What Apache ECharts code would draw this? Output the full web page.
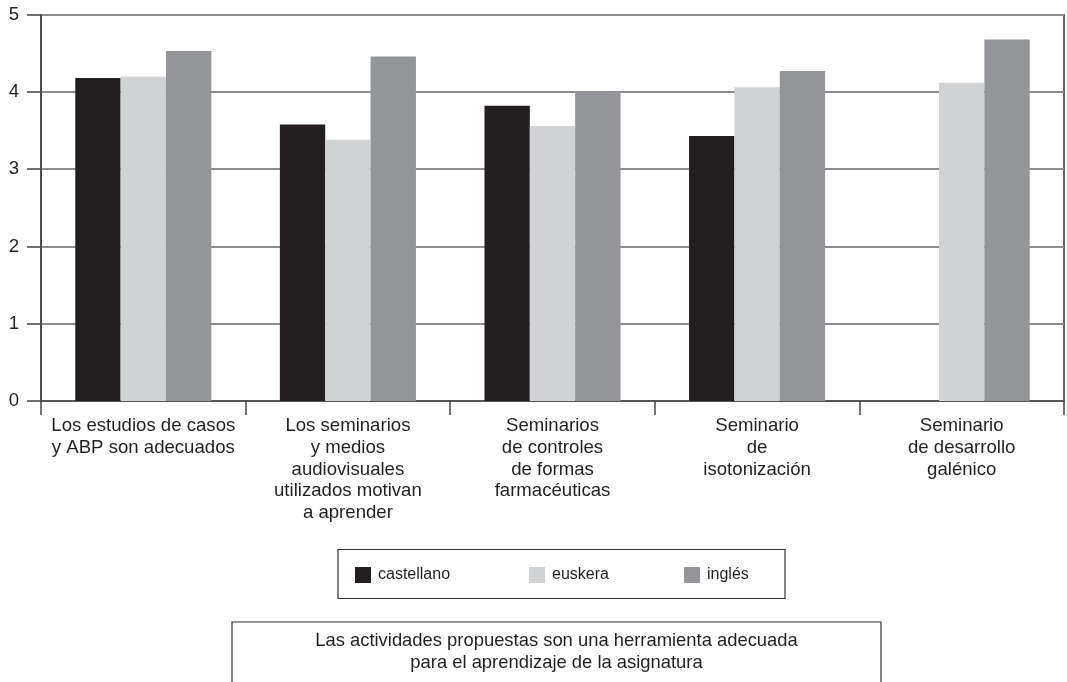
<!DOCTYPE html>
<html>
<head>
<meta charset="utf-8">
<script src="https://cdn.jsdelivr.net/npm/echarts@6/dist/echarts.min.js"></script>
<style>
  html, body { margin: 0; padding: 0; background: #fff; }
  #chart { width: 1067px; height: 682px; }
</style>
</head>
<body>
<div id="chart"></div>
<script>
// Mean agreement per activity and teaching language
const categories = [
  'Los estudios de casos\ny ABP son adecuados',
  'Los seminarios\ny medios\naudiovisuales\nutilizados motivan\na aprender',
  'Seminarios\nde controles\nde formas\nfarmacéuticas',
  'Seminario\nde\nisotonización',
  'Seminario\nde desarrollo\ngalénico'
];
const castellano = [4.18, 3.58, 3.82, 3.43, null];
const euskera    = [4.20, 3.38, 3.56, 4.06, 4.12];
const ingles     = [4.53, 4.46, 4.01, 4.27, 4.68];
const seriesNames = ['castellano', 'euskera', 'inglés'];
const seriesColors = ['#231f20', '#d1d2d4', '#949599'];
const yTicks = [0, 1, 2, 3, 4, 5];
const footerLines = [
  'Las actividades propuestas son una herramienta adecuada',
  'para el aprendizaje de la asignatura'
];

const FONT = '"Liberation Sans", Arial, Helvetica, sans-serif';
const TEXT = '#231f20';

const chart = echarts.init(document.getElementById('chart'), null, { renderer: 'canvas' });

// One legend per language so each entry sits in its own column of the box
const legendLefts = [355, 529, 684];
const legends = seriesNames.map((name, i) => ({
  data: [name],
  left: legendLefts[i],
  top: 567,
  itemWidth: 16,
  itemHeight: 16,
  itemGap: 0,
  padding: 0,
  icon: 'rect',
  textStyle: { fontFamily: FONT, fontSize: 16, color: TEXT, padding: [0, 0, 0, 2] },
  selectedMode: false
}));

const seriesData = [castellano, euskera, ingles];

chart.setOption({
  animation: false,
  backgroundColor: '#fff',
  textStyle: { fontFamily: FONT },
  grid: {
    left: 41, right: 3, top: 14.7, bottom: 281,
    show: true, borderColor: '#333', borderWidth: 1.5, backgroundColor: 'transparent'
  },
  legend: legends,
  xAxis: {
    type: 'category',
    data: categories,
    axisLine: { lineStyle: { color: '#444', width: 1.5 } },
    axisTick: { show: true, length: 14, alignWithLabel: false, lineStyle: { color: '#444', width: 1.5 } },
    axisLabel: {
      interval: 0, margin: 14, fontFamily: FONT, fontSize: 18.6, lineHeight: 21.8, color: TEXT, align: 'center'
    }
  },
  yAxis: {
    type: 'value',
    min: yTicks[0],
    max: yTicks[yTicks.length - 1],
    interval: 1,
    axisLine: { show: true, lineStyle: { color: '#444', width: 1.5 } },
    axisTick: { show: true, length: 14, lineStyle: { color: '#444', width: 1.5 } },
    axisLabel: { margin: 22, fontFamily: FONT, fontSize: 18.6, color: TEXT },
    splitLine: { show: true, lineStyle: { color: '#8c8c8c', width: 2 } }
  },
  series: seriesNames.map((name, i) => ({
    name: name,
    type: 'bar',
    data: seriesData[i],
    barGap: '0%',
    barCategoryGap: '33.5%',
    itemStyle: { color: seriesColors[i] },
    emphasis: { disabled: true }
  })),
  graphic: [
    {
      type: 'rect',
      shape: { x: 338, y: 549.5, width: 447, height: 49 },
      style: { fill: 'none', stroke: '#333', lineWidth: 1.2 },
      silent: true
    },
    {
      type: 'polyline',
      shape: { points: [[232, 690], [232, 622], [881, 622], [881, 690]] },
      style: { fill: 'none', stroke: '#333', lineWidth: 1.2 },
      silent: true
    },
    {
      type: 'text',
      x: 556.5,
      y: 630,
      style: {
        text: footerLines.join('\n'),
        fontFamily: FONT, fontSize: 18.4, lineHeight: 22, fill: TEXT,
        align: 'center', verticalAlign: 'top'
      },
      silent: true
    }
  ]
});
</script>
</body>
</html>
